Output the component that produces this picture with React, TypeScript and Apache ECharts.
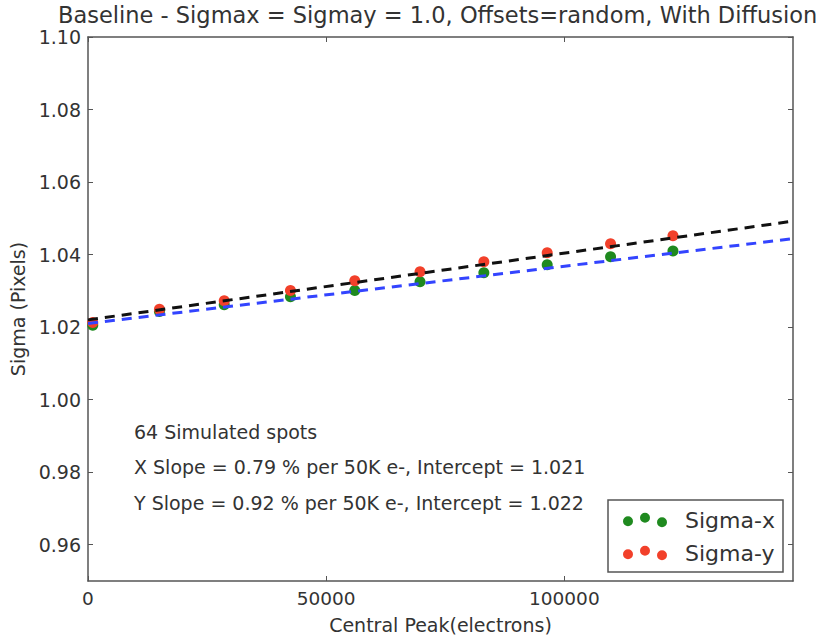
import React, { useEffect, useRef } from "react";
import * as echarts from "echarts";

// Measured spot widths versus central peak signal
const peakElectrons = [1000, 15000, 28600, 42500, 56000, 69700, 83100, 96400, 109700, 122800];
const sigmaX = [1.0205, 1.0243, 1.0262, 1.0284, 1.0301, 1.0325, 1.035, 1.0372, 1.0394, 1.041];
const sigmaY = [1.0213, 1.0249, 1.0273, 1.0301, 1.0328, 1.0353, 1.038, 1.0405, 1.043, 1.0452];

// Linear fit results (slope in % per 50K electrons)
const xSlopePct = 0.79;
const xIntercept = 1.021;
const ySlopePct = 0.92;
const yIntercept = 1.022;
const spotCount = 64;

const xTicks = [0, 50000, 100000];
const yTicks = [0.96, 0.98, 1.0, 1.02, 1.04, 1.06, 1.08, 1.1];

const X_MAX = 148000;
const Y_MIN = 0.95;
const Y_MAX = 1.1;

const FONT = "DejaVu Sans";
const TEXT = "#333";
const FRAME = "#555";

const fitLine = (slopePct: number, intercept: number) =>
  [0, X_MAX].map((x) => [x, intercept + (slopePct / 100) * (x / 50000)]);

const DOTS_ICON =
  "path://M0,9.5a5,5 0 1,0 10,0a5,5 0 1,0 -10,0Z M17,6a5,5 0 1,0 10,0a5,5 0 1,0 -10,0Z M34,10.5a5,5 0 1,0 10,0a5,5 0 1,0 -10,0Z";

export default function App() {
  const ref = useRef<HTMLDivElement>(null);

  useEffect(() => {
    if (!ref.current) return;
    const chart = echarts.init(ref.current, undefined, { renderer: "svg" });

    const frameAxis = {
      type: "value" as const,
      axisLine: { show: true, onZero: false, lineStyle: { color: FRAME, width: 1.5 } },
      splitLine: { show: false },
    };

    const annotation = (text: string, y: number) => ({
      type: "text",
      style: {
        text,
        x: 134,
        y,
        verticalAlign: "middle",
        font: `19px "${FONT}"`,
        fill: TEXT,
      },
    });

    chart.setOption({
      animation: false,
      backgroundColor: "#fff",
      title: {
        text: "Baseline - Sigmax = Sigmay = 1.0, Offsets=random, With Diffusion",
        left: 58,
        top: 4,
        padding: 0,
        textStyle: {
          fontFamily: FONT,
          fontSize: 22.5,
          lineHeight: 22,
          fontWeight: "normal",
          color: TEXT,
        },
      },
      grid: { left: 88, top: 37, right: 36, bottom: 55 },
      xAxis: [
        {
          ...frameAxis,
          position: "bottom",
          min: 0,
          max: X_MAX,
          axisTick: { show: true, inside: true, length: 5, customValues: xTicks, lineStyle: { color: FRAME } },
          axisLabel: {
            customValues: xTicks,
            formatter: (v: number) => String(Math.round(v)),
            fontFamily: FONT,
            fontSize: 18.5,
            color: TEXT,
            margin: 8,
          },
          name: "Central Peak(electrons)",
          nameLocation: "middle",
          nameGap: 34,
          nameTextStyle: { fontFamily: FONT, fontSize: 19, color: TEXT },
        },
        {
          ...frameAxis,
          position: "top",
          min: 0,
          max: X_MAX,
          axisTick: { show: true, inside: true, length: 5, customValues: xTicks, lineStyle: { color: FRAME } },
          axisLabel: { show: false },
        },
      ],
      yAxis: [
        {
          ...frameAxis,
          position: "left",
          min: Y_MIN,
          max: Y_MAX,
          axisTick: { show: true, inside: true, length: 5, customValues: yTicks, lineStyle: { color: FRAME } },
          axisLabel: {
            customValues: yTicks,
            formatter: (v: number) => v.toFixed(2),
            fontFamily: FONT,
            fontSize: 19,
            lineHeight: 18,
            color: TEXT,
            margin: 7,
          },
          name: "Sigma (Pixels)",
          nameLocation: "middle",
          nameGap: 60,
          nameRotate: 90,
          nameTextStyle: { fontFamily: FONT, fontSize: 19, color: TEXT },
        },
        {
          ...frameAxis,
          position: "right",
          min: Y_MIN,
          max: Y_MAX,
          axisTick: { show: true, inside: true, length: 5, customValues: yTicks, lineStyle: { color: FRAME } },
          axisLabel: { show: false },
        },
      ],
      legend: {
        data: [
          { name: "Sigma-x", icon: DOTS_ICON },
          { name: "Sigma-y", icon: DOTS_ICON },
        ],
        orient: "vertical",
        left: 618,
        top: 504,
        itemWidth: 44,
        itemHeight: 15.5,
        itemGap: 11,
        textStyle: { fontFamily: FONT, fontSize: 22, color: TEXT, padding: [0, 0, 0, 13] },
        z: 10,
      },
      graphic: [
        {
          type: "rect",
          shape: { x: 608, y: 500, width: 175, height: 72 },
          style: { fill: "#fff", stroke: FRAME, lineWidth: 1.5 },
          z: 5,
        },
        annotation(`${spotCount} Simulated spots`, 432),
        annotation(
          `X Slope = ${xSlopePct.toFixed(2)} % per 50K e-, Intercept = ${xIntercept.toFixed(3)}`,
          467
        ),
        annotation(
          `Y Slope = ${ySlopePct.toFixed(2)} % per 50K e-, Intercept = ${yIntercept.toFixed(3)}`,
          503
        ),
      ],
      series: [
        {
          name: "Sigma-x",
          type: "scatter",
          data: peakElectrons.map((x, i) => [x, sigmaX[i]]),
          symbolSize: 11,
          itemStyle: { color: "#1f8a1f", opacity: 1 },
          z: 2,
        },
        {
          name: "Sigma-y",
          type: "scatter",
          data: peakElectrons.map((x, i) => [x, sigmaY[i]]),
          symbolSize: 11,
          itemStyle: { color: "#f2402a", opacity: 1 },
          z: 3,
        },
        {
          name: "X fit",
          type: "line",
          data: fitLine(xSlopePct, xIntercept),
          showSymbol: false,
          lineStyle: { color: "#3344ff", width: 3, type: [10, 7] },
          z: 4,
        },
        {
          name: "Y fit",
          type: "line",
          data: fitLine(ySlopePct, yIntercept),
          showSymbol: false,
          lineStyle: { color: "#111", width: 3, type: [10, 7] },
          z: 4,
        },
      ],
    });

    return () => chart.dispose();
  }, []);

  return (
    <div
      ref={ref}
      style={{ position: "fixed", left: 0, top: 0, width: 829, height: 639 }}
    />
  );
}
